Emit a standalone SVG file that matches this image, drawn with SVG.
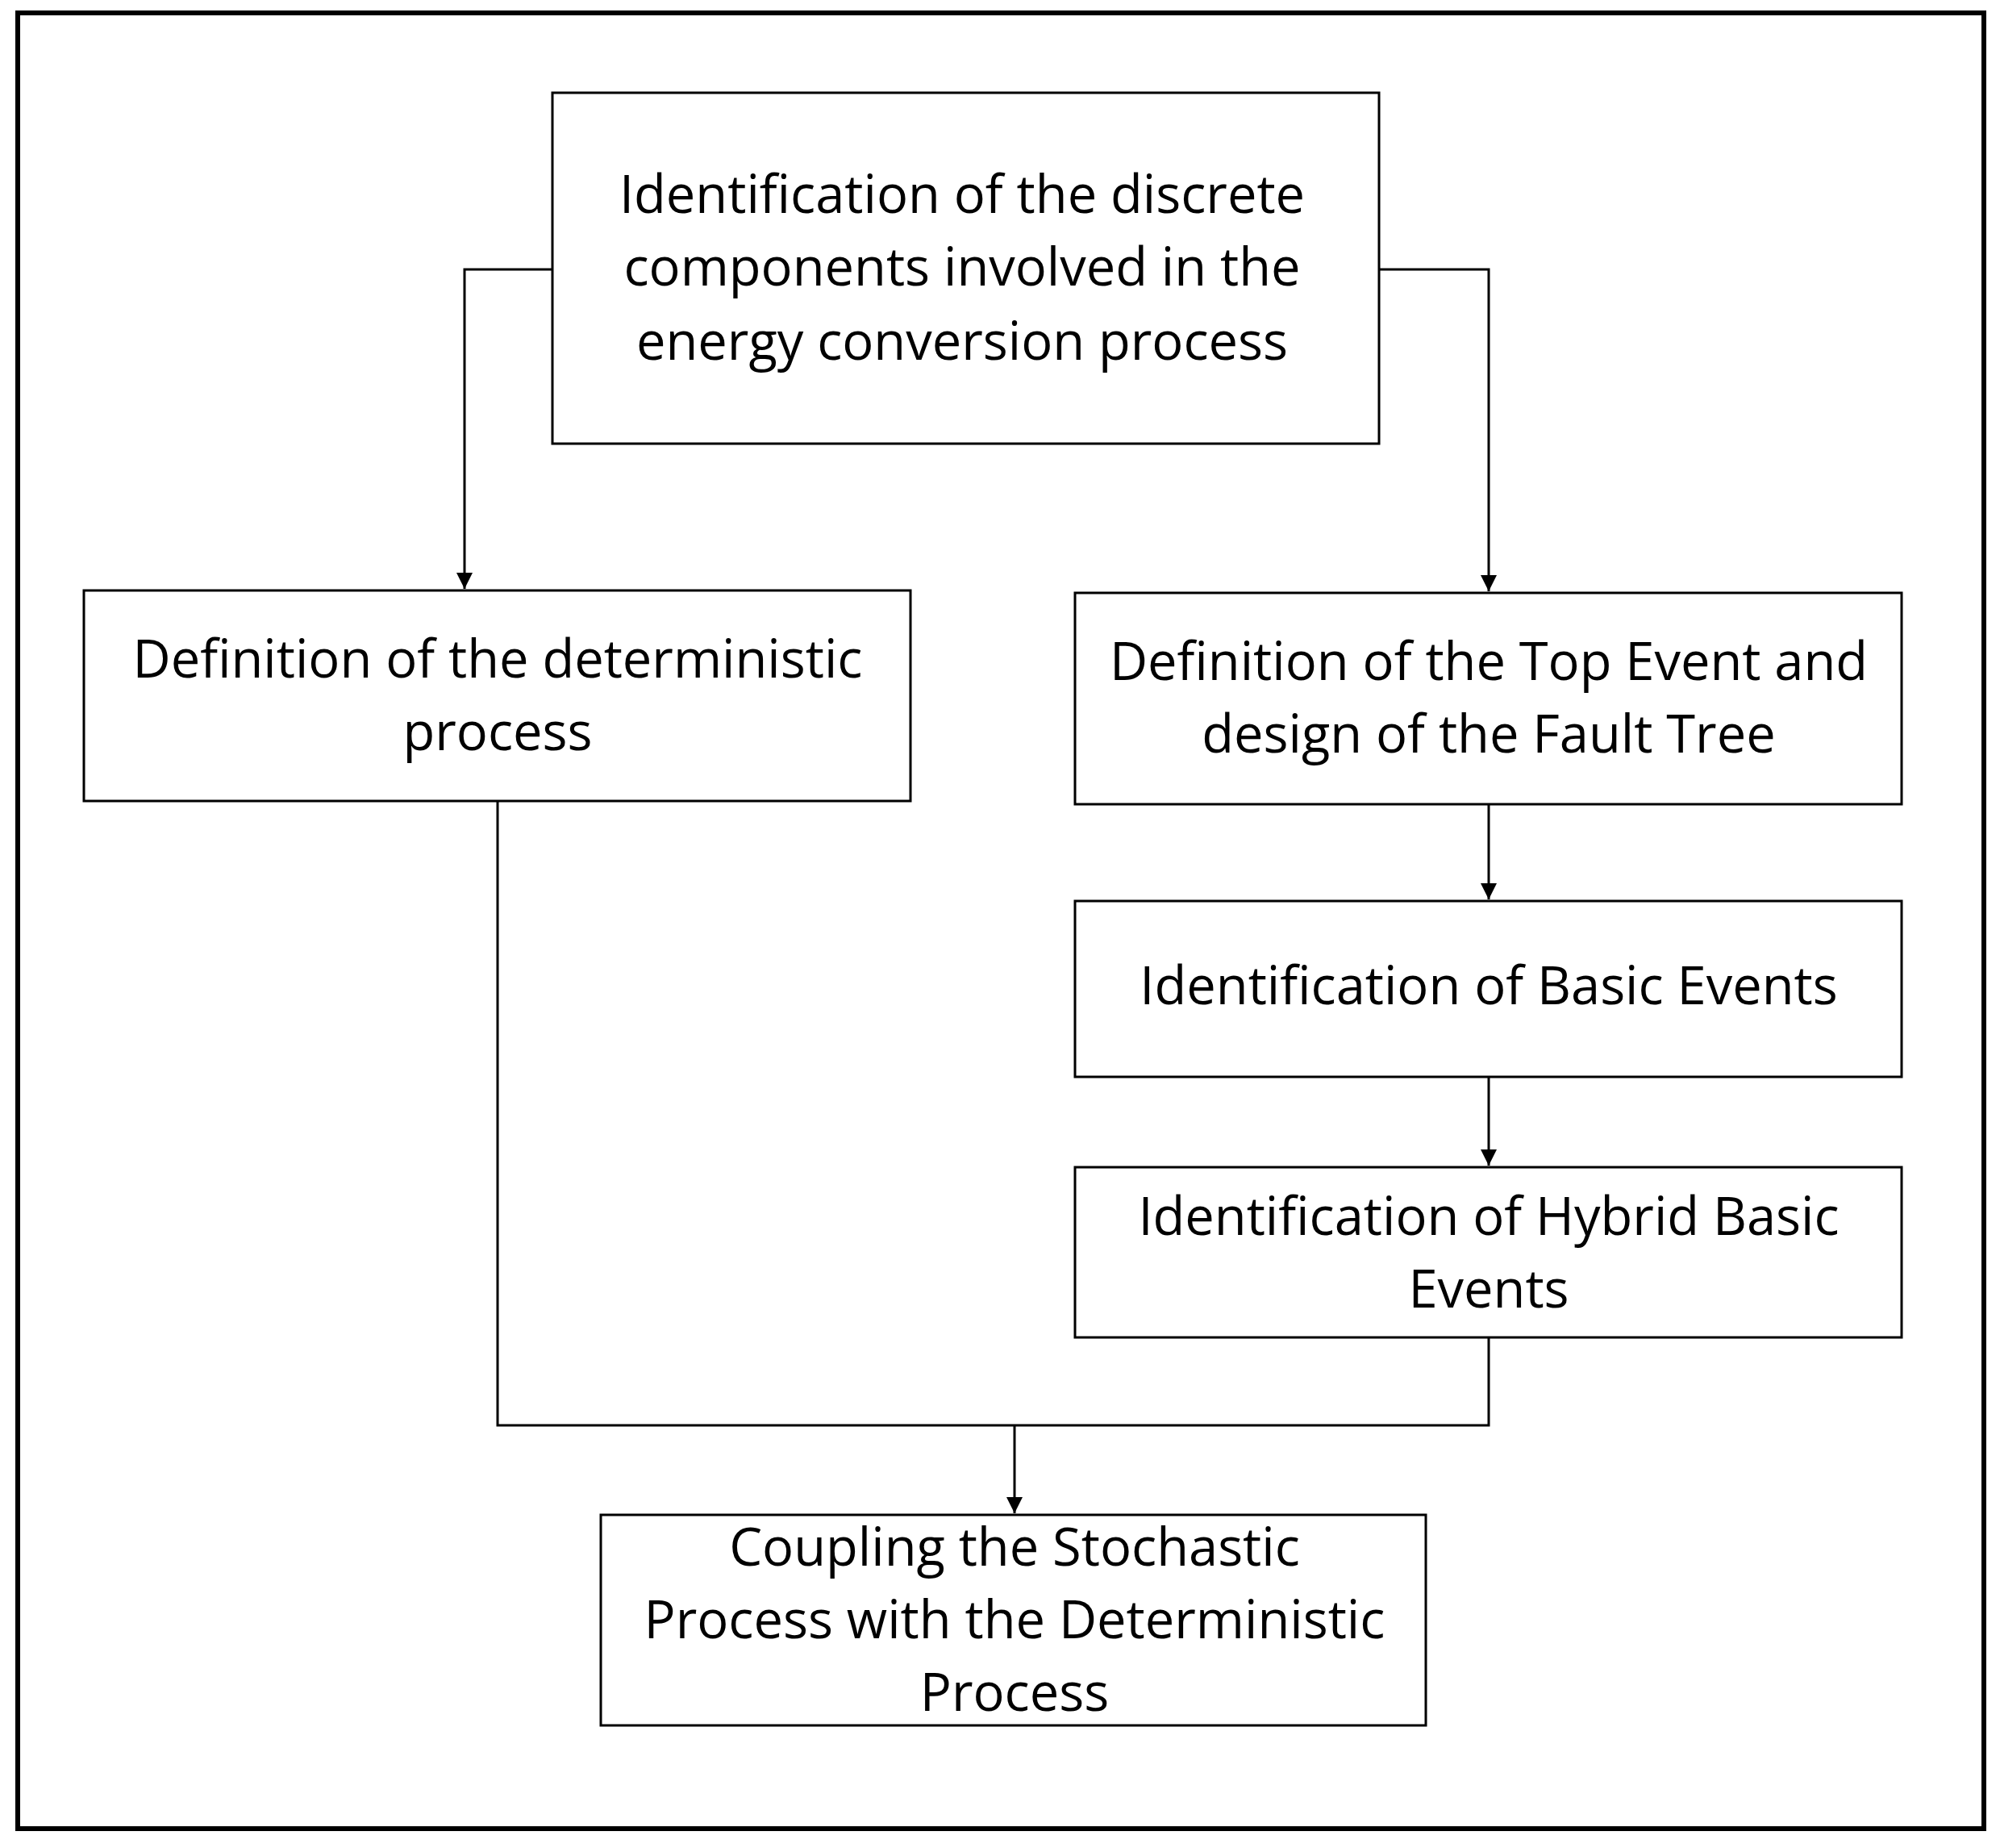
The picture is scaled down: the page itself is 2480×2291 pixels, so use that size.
<svg xmlns="http://www.w3.org/2000/svg" width="2480" height="2291" viewBox="0 0 2480 2291">
<style>
.b{fill:#fff;stroke:#000;stroke-width:3}
text{font-family:"Open Sans","Liberation Sans",sans-serif;font-size:65px;text-anchor:middle;fill:#000}
.c{fill:none;stroke:#000;stroke-width:3}
</style>
<defs>
<marker id="ah" viewBox="0 0 10 10" refX="10" refY="5" markerWidth="20" markerHeight="20" orient="auto" markerUnits="userSpaceOnUse"><path d="M0,0L10,5L0,10z"/></marker></defs>
<rect x="22" y="16" width="2438" height="2251" fill="#fff" stroke="#000" stroke-width="6"/>
<g id="connectors">
<path class="c" d="M685,334H576V730" marker-end="url(#ah)"/>
<path class="c" d="M1710,334H1846V733" marker-end="url(#ah)"/>
<path class="c" d="M1846,997V1115" marker-end="url(#ah)"/>
<path class="c" d="M1846,1335V1445" marker-end="url(#ah)"/>
<path class="c" d="M617,993V1767H1846V1658"/>
<path class="c" d="M1258,1767V1876" stroke-width="5" marker-end="url(#ah)"/>
</g>
<g id="n1"><rect class="b" x="685" y="115" width="1025" height="435"/>
<text x="1193" y="264">Identification of the discrete</text><text x="1193" y="354">components involved in the</text><text x="1193" y="446">energy conversion process</text></g>
<g id="n2"><rect class="b" x="104" y="732" width="1025" height="261"/>
<text x="617" y="840">Definition of the deterministic</text><text x="617" y="930">process</text></g>
<g id="n3"><rect class="b" x="1333" y="735" width="1025" height="262"/>
<text x="1846" y="843">Definition of the Top Event and</text><text x="1846" y="933">design of the Fault Tree</text></g>
<g id="n4"><rect class="b" x="1333" y="1117" width="1025" height="218"/>
<text x="1846" y="1245">Identification of Basic Events</text></g>
<g id="n5"><rect class="b" x="1333" y="1447" width="1025" height="211"/>
<text x="1846" y="1531">Identification of Hybrid Basic</text><text x="1846" y="1621">Events</text></g>
<g id="n6"><rect class="b" x="745" y="1878" width="1023" height="261"/>
<text x="1258" y="1941">Coupling the Stochastic</text><text x="1258" y="2031">Process with the Deterministic</text><text x="1258" y="2121">Process</text></g>
</svg>
